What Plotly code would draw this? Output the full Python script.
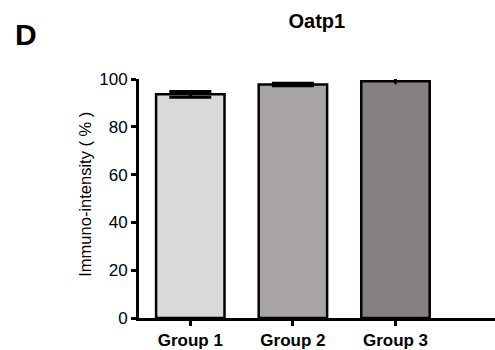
import plotly.graph_objects as go

groups = ["Group 1", "Group 2", "Group 3"]
values = [93.6, 97.7, 99.1]
errors = [1.2, 0.5, 0.8]
colors = ["#d9d9d9", "#a7a3a6", "#858084"]
cap_widths = [21, 21, 1]
y_ticks = [0, 20, 40, 60, 80, 100]

fig = go.Figure()
for g, v, e, c, w in zip(groups, values, errors, colors, cap_widths):
    fig.add_trace(go.Bar(
        x=[g], y=[v],
        marker=dict(color=c, line=dict(color="black", width=2.5)),
        error_y=dict(type="data", array=[e], arrayminus=[e], color="black",
                     thickness=3, width=w),
        width=0.667, cliponaxis=False, showlegend=False,
    ))

font = "Liberation Sans, Arial, sans-serif"
fig.update_layout(
    width=495, height=350,
    margin=dict(l=139, r=0, t=79, b=32, autoexpand=False),
    paper_bgcolor="white", plot_bgcolor="white",
    barmode="overlay",
    font=dict(family=font, color="black"),
    title=dict(text="<b>Oatp1</b>", x=0.640, xanchor="center", y=0.94,
               yanchor="middle", font=dict(size=20, family=font, color="black")),
    xaxis=dict(range=[-0.5, 2.97], showline=True, linecolor="black", linewidth=3,
               ticks="outside", ticklen=5, tickwidth=3, tickcolor="black",
               tickfont=dict(size=17, family=font, color="black"),
               tickprefix="<b>", ticksuffix="</b>", showgrid=False, zeroline=False,
               automargin=False),
    yaxis=dict(range=[0, 100], tickvals=y_ticks, showline=True, linecolor="black",
               linewidth=3, ticks="outside", ticklen=5, tickwidth=2.5,
               tickcolor="black", tickfont=dict(size=17, family=font, color="black"),
               tickprefix="<b>", ticksuffix="</b>", showgrid=False, zeroline=False,
               automargin=False),
    annotations=[
        dict(text="<b>D</b>", x=-0.354, y=1.188, xref="paper", yref="paper",
             xanchor="left", yanchor="middle", showarrow=False,
             font=dict(size=30, family=font, color="black")),
        dict(text="Immuno-intensity ( % )", x=-0.1517, y=0.52, xref="paper",
             yref="paper", xanchor="center", yanchor="middle", textangle=-90,
             showarrow=False, font=dict(size=16.5, family=font, color="black")),
    ],
)
fig.write_html(
    "out.html",
    config={"displayModeBar": False},
    post_script="document.body.style.margin='0';document.body.style.overflow='hidden';",
)
